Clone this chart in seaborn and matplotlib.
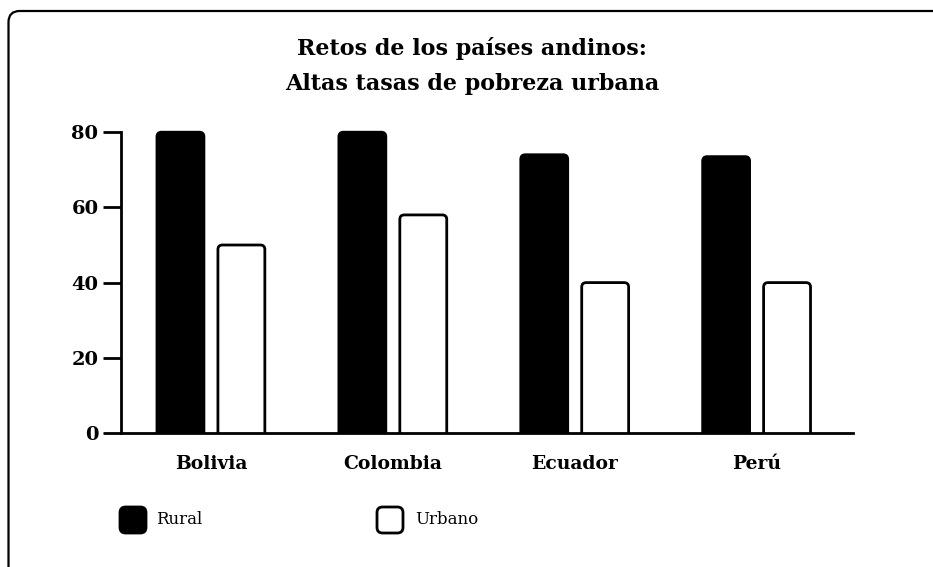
import matplotlib
matplotlib.use("Agg")
import matplotlib.pyplot as plt
from matplotlib.patches import FancyBboxPatch
import seaborn as sns
import pandas as pd

# ---- data ----
countries = ["Bolivia", "Colombia", "Ecuador", "Perú"]
rural = [80, 80, 74, 73.5]
urbano = [50, 58, 40, 40]
series_names = ["Rural", "Urbano"]
title = "Retos de los países andinos:\nAltas tasas de pobreza urbana"
yticks = [0, 20, 40, 60, 80]

df = pd.DataFrame({
    "pais": countries * 2,
    "serie": [series_names[0]] * len(countries) + [series_names[1]] * len(countries),
    "valor": rural + urbano,
})

sns.set_theme(style="white")
plt.rcParams["font.family"] = ["DejaVu Serif"]
plt.rcParams["text.color"] = "black"
plt.rcParams["xtick.color"] = "black"
plt.rcParams["ytick.color"] = "black"
plt.rcParams["axes.labelcolor"] = "black"

W, H = 933, 567
fig = plt.figure(figsize=(W / 100, H / 100), dpi=100)
ax_left, ax_right = 120.7 / W, 853 / W
ax_bottom = 1 - 433 / H
ymax = 82
ax_top = ax_bottom + ymax * 3.76 / H
ax = fig.add_axes([ax_left, ax_bottom, ax_right - ax_left, ax_top - ax_bottom])

sns.barplot(data=df, x="pais", y="valor", hue="serie", order=countries,
            hue_order=series_names, palette=["black", "white"],
            width=0.67, gap=0.23, ax=ax, legend=False)

ax.set_xlim(-0.496, 3.53)
ax.set_ylim(0, ymax)

# Restyle bars with rounded top corners
px_per_x = (853 - 120.7) / (3.53 + 0.496)
px_per_y = 3.76
aspect = px_per_x / px_per_y
r = 4.5 / px_per_x
bars = list(ax.patches)
for i, p in enumerate(bars):
    x0, y0 = p.get_x(), p.get_y()
    w, h = p.get_width(), p.get_height()
    is_rural = i < len(countries)
    fb = FancyBboxPatch((x0, y0 - r * aspect), w, h + r * aspect,
                        boxstyle=f"round,pad=0,rounding_size={r}",
                        mutation_aspect=aspect,
                        facecolor="black" if is_rural else "white",
                        edgecolor="black", linewidth=2.0, zorder=2)
    p.remove()
    ax.add_patch(fb)

ax.set_xlabel("")
ax.set_ylabel("")
ax.set_yticks(yticks)
ax.set_yticklabels([str(t) for t in yticks], fontsize=14, fontweight="bold")
ax.tick_params(axis="y", length=13, width=2.0, color="black", pad=3, left=True)
ax.tick_params(axis="x", length=0, pad=16)
for lab in ax.get_xticklabels():
    lab.set_fontsize(13.5)
    lab.set_fontweight("bold")
for s in ["top", "right"]:
    ax.spines[s].set_visible(False)
ax.spines["left"].set_bounds(0, 80)
for s in ["left", "bottom"]:
    ax.spines[s].set_linewidth(2.0)
    ax.spines[s].set_color("black")
    ax.spines[s].set_zorder(3)

# Title
fig.text(472 / W, 1 - 66 / H, title, ha="center", va="center",
         fontsize=16, fontweight="bold", linespacing=1.8, color="black")

# Legend (manual)
def legend_key(x_px, fc, label, tx_px):
    bx = FancyBboxPatch((x_px / W, 1 - 533 / H), 26 / W, 26 / H,
                        boxstyle="round,pad=0,rounding_size=0.006",
                        mutation_aspect=W / H,
                        transform=fig.transFigure, facecolor=fc,
                        edgecolor="black", linewidth=2.0)
    fig.patches.append(bx)
    fig.text(tx_px / W, 1 - 520 / H, label, ha="left", va="center",
             fontsize=12, color="black")

legend_key(120, "black", series_names[0], 156)
legend_key(377, "white", series_names[1], 415)

# Frame
frame = FancyBboxPatch((8.5 / W, -0.1), 1.2, 1 - 11 / H + 0.1,
                       boxstyle="round,pad=0,rounding_size=0.012",
                       mutation_aspect=W / H,
                       transform=fig.transFigure, facecolor="none",
                       edgecolor="black", linewidth=1.6)
fig.patches.append(frame)

fig.savefig("out.png", dpi=100)
